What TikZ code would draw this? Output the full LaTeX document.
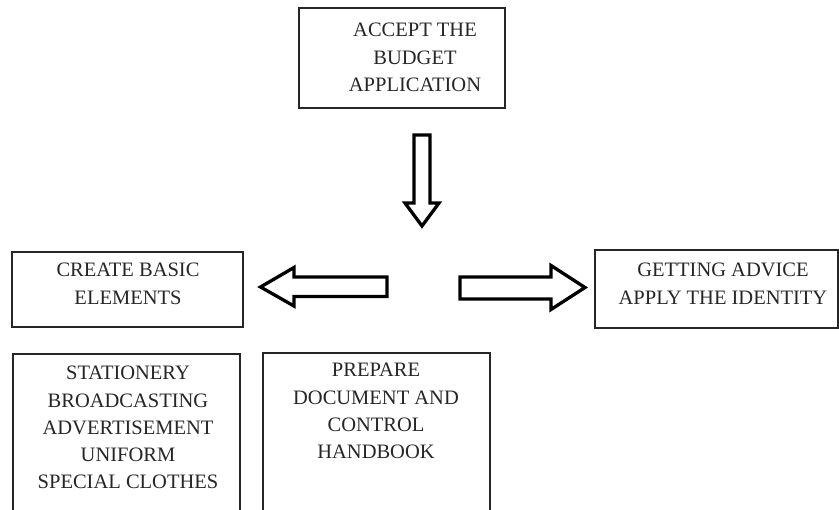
\documentclass[tikz,border=0pt]{standalone}
\usepackage{fontspec}
\setmainfont{Liberation Serif}
\begin{document}
\begin{tikzpicture}[x=1pt,y=-1pt,
  box/.style={draw=black!85,line width=1.3pt,fill=white,inner sep=0pt},
  txt/.style={align=center,inner sep=0pt,anchor=north,text=black!85,
    font=\fontsize{20.5}{27.3}\selectfont},
  blockarrow/.style={draw=black,line width=3.3pt,line join=miter,fill=white}]
\useasboundingbox (0,0) rectangle (839,510);
\clip (0,0) rectangle (839,510);

% boxes
\node[box,minimum width=206pt,minimum height=100pt] (budget) at (402,58) {};
\node[box,minimum width=231pt,minimum height=75pt] (basic) at (127.5,289.5) {};
\node[box,minimum width=243pt,minimum height=78pt] (advice) at (716.5,289) {};
\node[box,minimum width=227pt,minimum height=200pt] (station) at (126.5,454) {};
\node[box,minimum width=227pt,minimum height=200pt] (prepare) at (376.5,453) {};

% texts
\node[txt] (tbudget) at (415,23) {ACCEPT THE\\BUDGET\\APPLICATION};
\node[txt] (tbasic) at (128,263) {CREATE BASIC\\ELEMENTS};
\node[txt] (tadvice) at (723,263) {GETTING ADVICE\\APPLY THE IDENTITY};
\node[txt] (tstation) at (128,366) {STATIONERY\\BROADCASTING\\ADVERTISEMENT\\UNIFORM\\SPECIAL CLOTHES};
\node[txt] (tprepare) at (376,363) {PREPARE\\DOCUMENT AND\\CONTROL\\HANDBOOK};

% block arrows
\draw[blockarrow] (414,135) -- (430,135) -- (430,203) -- (439,203) -- (422,226)
  -- (405,203) -- (414,203) -- cycle;
\draw[blockarrow] (387,277) -- (294,277) -- (294,267.5) -- (260.5,287)
  -- (294,306) -- (294,296.5) -- (387,296.5) -- cycle;
\draw[blockarrow] (460,277) -- (551,277) -- (551,265.5) -- (585,287.5)
  -- (551,309.5) -- (551,299) -- (460,299) -- cycle;
\end{tikzpicture}
\end{document}
